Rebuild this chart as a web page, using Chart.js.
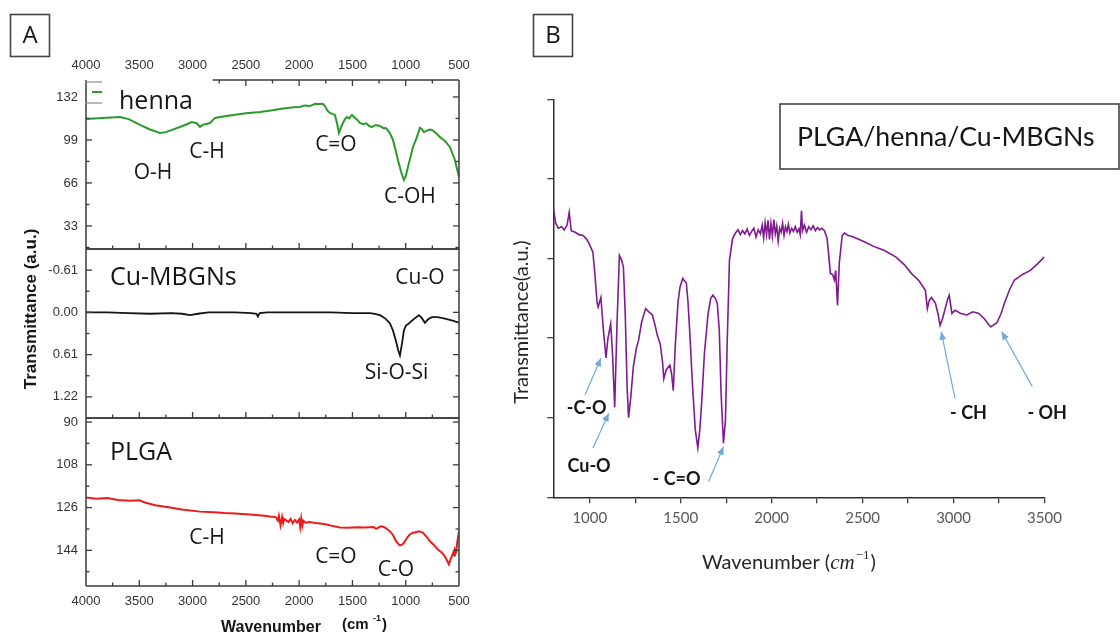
<!DOCTYPE html>
<html>
<head>
<meta charset="utf-8">
<script src="https://cdn.jsdelivr.net/npm/chart.js@4.4.1/dist/chart.umd.min.js"></script>
<style>
    html, body { margin: 0; padding: 0; background: #fff; }
    #wrap { position: relative; width: 1120px; height: 635px; overflow: hidden; background: #fff; }
    #wrap canvas { position: absolute; left: 0; top: 0; }
</style>
</head>
<body>
<div id="wrap">
    <canvas id="cHenna" width="1120" height="635"></canvas>
    <canvas id="cCu" width="1120" height="635"></canvas>
    <canvas id="cPlga" width="1120" height="635"></canvas>
    <canvas id="cComp" width="1120" height="635"></canvas>
</div>
<script>
// ------------------------------
// Data (wavenumber, transmittance)
// ------------------------------
const hennaWn = [4000, 3850, 3681, 3600, 3493, 3400, 3306, 3250, 3193, 3100, 3006, 2960, 2931, 2900, 2874, 2837, 2790, 2700, 2600, 2500,
    2368, 2250, 2150, 2050, 1993, 1950, 1900, 1850, 1805, 1780, 1758, 1735, 1711, 1690, 1664, 1645, 1627, 1610, 1589, 1570,
    1552, 1530, 1505, 1477, 1455, 1430, 1400, 1370, 1340, 1317, 1280, 1242, 1210, 1186, 1150, 1120, 1095, 1073, 1045, 1017,
    1000, 979, 955, 932, 900, 867, 850, 829, 800, 775, 754, 720, 679, 630, 585, 540, 500];
const hennaT = [115.1, 115.8, 116.6, 115.0, 110.5, 107.0, 104.4, 105.0, 106.7, 109.5, 112.8, 111.8, 109.0, 110.8, 111.3, 112.0, 115.9, 117.2, 118.3, 119.5,
    120.5, 121.8, 123.2, 124.0, 124.3, 125.5, 125.0, 126.8, 126.6, 126.8, 125.0, 121.5, 119.7, 119.0, 118.2, 112.0, 104.4, 108.0, 112.0, 115.0,
    116.6, 115.5, 118.2, 115.9, 114.5, 112.0, 111.0, 111.8, 109.5, 109.0, 110.5, 109.7, 108.0, 108.2, 104.5, 99.0, 91.0, 83.6, 75.0, 68.3,
    71.0, 78.3, 86.0, 93.6, 100.0, 108.2, 107.5, 105.1, 106.2, 107.0, 106.7, 104.5, 101.3, 98.0, 93.6, 84.0, 70.6];

const cuWn = [4000, 3800, 3600, 3400, 3200, 3100, 3024, 2950, 2850, 2600, 2450, 2400, 2387, 2370, 2300, 2000, 1700, 1500, 1336, 1290,
    1242, 1190, 1148, 1120, 1092, 1070, 1054, 1035, 1017, 998, 970, 942, 910, 876, 850, 820, 790, 754, 700, 632, 560, 500];
const cuT = [0.0, 0.0, 0.01, 0.02, 0.01, 0.02, 0.04, 0.02, 0.0, 0.0, 0.01, 0.02, 0.06, 0.01, 0.0, 0.0, 0.0, 0.01, 0.01, 0.02,
    0.04, 0.09, 0.16, 0.26, 0.41, 0.55, 0.62, 0.45, 0.26, 0.19, 0.16, 0.12, 0.08, 0.04, 0.08, 0.15, 0.10, 0.07, 0.07, 0.09, 0.12, 0.15];

const plgaWn = [4000, 3900, 3800, 3700, 3587, 3500, 3447, 3350, 3212, 3100, 2931, 2800, 2700, 2600, 2462, 2350, 2274, 2220, 2200, 2190,
    2175, 2160, 2150, 2140, 2120, 2100, 2080, 2060, 2040, 2020, 2000, 1990, 1980, 1970, 1960, 1940, 1900, 1850, 1805, 1750,
    1700, 1617, 1550, 1450, 1383, 1300, 1280, 1270, 1240, 1214, 1180, 1148, 1120, 1101, 1075, 1054, 1030, 1008, 985, 961,
    930, 914, 880, 839, 800, 773, 740, 698, 660, 632, 610, 595, 580, 567, 555, 545, 538, 525, 515, 500];
const plgaT = [121.8, 122.3, 122.0, 122.8, 123.1, 122.9, 123.9, 125.0, 126.0, 126.8, 127.7, 128.0, 128.3, 128.5, 128.9, 129.3, 129.8, 130.0, 131.5, 129.5,
    133.5, 130.0, 132.5, 130.8, 131.5, 132.0, 130.8, 132.6, 131.2, 132.3, 131.0, 134.2, 130.5, 133.6, 131.5, 132.4, 132.1, 132.5, 132.7, 133.0,
    133.6, 134.4, 134.5, 134.3, 134.4, 134.2, 134.9, 134.8, 134.0, 134.0, 134.8, 136.0, 137.5, 139.4, 141.0, 141.9, 141.5, 140.2, 138.5, 137.3,
    136.5, 136.5, 136.0, 136.5, 138.5, 140.2, 141.5, 143.6, 145.0, 146.5, 148.5, 149.9, 147.8, 146.5, 145.0, 146.2, 143.6, 144.5, 140.0, 136.0];

const compWn = [800, 812, 826, 845, 860, 875, 887, 898, 920, 940, 963, 980, 996, 1017, 1028, 1040, 1046, 1061, 1075, 1089,
    1100, 1115, 1125, 1137, 1150, 1163, 1175, 1185, 1195, 1205, 1213, 1225, 1240, 1257, 1268, 1285, 1307, 1325, 1344, 1360,
    1372, 1387, 1400, 1407, 1420, 1440, 1450, 1459, 1470, 1485, 1496, 1511, 1531, 1540, 1550, 1565, 1580, 1594, 1605, 1616,
    1630, 1650, 1665, 1677, 1690, 1701, 1712, 1722, 1735, 1746, 1755, 1768, 1785, 1801, 1815, 1828, 1840, 1852, 1865, 1878,
    1890, 1902, 1914, 1926, 1938, 1948, 1956, 1964, 1972, 1980, 1988, 1996, 2004, 2012, 2020, 2028, 2036, 2044, 2052, 2060,
    2068, 2076, 2084, 2092, 2100, 2110, 2120, 2130, 2140, 2150, 2157, 2164, 2170, 2180, 2192, 2204, 2216, 2228, 2240, 2252,
    2264, 2276, 2290, 2305, 2323, 2335, 2345, 2352, 2362, 2372, 2388, 2400, 2421, 2450, 2500, 2573, 2620, 2682, 2730, 2769,
    2810, 2845, 2856, 2866, 2878, 2900, 2915, 2926, 2940, 2954, 2966, 2976, 2991, 3008, 3040, 3074, 3105, 3139, 3170, 3204,
    3237, 3260, 3280, 3310, 3335, 3380, 3422, 3460, 3500];
const compT = [3.63, 3.45, 3.38, 3.40, 3.36, 3.42, 3.58, 3.35, 3.33, 3.30, 3.29, 3.25, 3.19, 3.08, 2.81, 2.45, 2.39, 2.51, 2.10, 1.75,
    2.00, 2.18, 1.80, 1.13, 2.20, 3.04, 2.98, 2.89, 2.30, 1.40, 1.00, 1.25, 1.65, 1.88, 1.97, 2.20, 2.37, 2.33, 2.29, 2.15,
    2.03, 1.93, 1.70, 1.49, 1.60, 1.66, 1.55, 1.34, 1.90, 2.45, 2.64, 2.75, 2.69, 2.45, 2.06, 1.40, 0.85, 0.62, 0.85, 1.22,
    1.80, 2.30, 2.50, 2.54, 2.50, 2.44, 2.10, 1.30, 0.68, 0.97, 1.90, 2.98, 3.25, 3.32, 3.36, 3.30, 3.35, 3.31, 3.37, 3.29,
    3.34, 3.38, 3.27, 3.36, 3.31, 3.42, 3.26, 3.45, 3.30, 3.48, 3.24, 3.44, 3.28, 3.49, 3.31, 3.41, 3.22, 3.38, 3.33, 3.44,
    3.29, 3.40, 3.34, 3.43, 3.32, 3.38, 3.34, 3.40, 3.33, 3.37, 3.30, 3.60, 3.35, 3.42, 3.33, 3.40, 3.36, 3.41, 3.35, 3.39,
    3.36, 3.38, 3.35, 3.25, 2.81, 2.80, 2.73, 2.85, 2.41, 2.95, 3.29, 3.32, 3.29, 3.27, 3.22, 3.14, 3.10, 3.02, 2.92, 2.81,
    2.72, 2.60, 2.37, 2.47, 2.51, 2.44, 2.30, 2.16, 2.25, 2.37, 2.48, 2.54, 2.31, 2.35, 2.31, 2.29, 2.33, 2.31, 2.24, 2.14,
    2.19, 2.30, 2.44, 2.62, 2.73, 2.80, 2.85, 2.93, 3.02];

// tick values
const aTicksX = [4000, 3500, 3000, 2500, 2000, 1500, 1000, 500];
const aMinorX = [3750, 3250, 2750, 2250, 1750, 1250, 750];
const hennaTicksY = [33, 66, 99, 132];
const hennaMinorY = [16.5, 49.5, 82.5, 115.5];
const cuTicksY = [-0.61, 0, 0.61, 1.22];
const cuMinorY = [-0.305, 0.305, 0.915];
const plgaTicksY = [90, 108, 126, 144];
const plgaMinorY = [99, 117, 135, 153];
const bTicksX = [1000, 1250, 1500, 1750, 2000, 2250, 2500, 2750, 3000, 3250, 3500];
const bTicksY = [0, 1, 2, 3, 4, 5];

// ------------------------------
// Helpers
// ------------------------------
const AX = '#3a3a3a';
const INK = '#161616';
const pts = (xs, ys) => xs.map((x, i) => ({ x: x, y: ys[i] }));
const fixTicks = vals => scale => { scale.ticks = vals.map(v => ({ value: v })); };

function text(ctx, s, x, y, font, color, align) {
    ctx.font = font;
    ctx.fillStyle = color || INK;
    ctx.textAlign = align || 'center';
    ctx.textBaseline = 'middle';
    ctx.fillText(s, x, y);
}

function line(ctx, x1, y1, x2, y2) {
    ctx.beginPath();
    ctx.moveTo(x1, y1);
    ctx.lineTo(x2, y2);
    ctx.stroke();
}

// labels placed in data coordinates of a chart
function label(chart, s, wn, val, font, align) {
    const x = chart.scales.x.getPixelForValue(wn);
    const y = chart.scales.y.getPixelForValue(val);
    text(chart.ctx, s, x, y, font, INK, align);
}

// ------------------------------
// Frame + inward ticks for the stacked panel A plots
// ------------------------------
function aFrame(opt) {
    return {
        id: 'aFrame',
        afterDraw(chart) {
            const { ctx, chartArea: a, scales: { x, y } } = chart;
            ctx.save();
            ctx.strokeStyle = AX;
            ctx.lineWidth = 1.5;
            line(ctx, a.left, a.top, a.left, a.bottom);
            line(ctx, a.right, a.top, a.right, a.bottom);
            line(ctx, a.left, a.bottom, a.right, a.bottom);
            const topFrom = opt.topFrom ? x.getPixelForValue(opt.topFrom) : a.left;
            line(ctx, topFrom, a.top, a.right, a.top);

            ctx.lineWidth = 1.3;
            const xt = aTicksX.slice(1, -1).map(v => [v, 6]).concat(aMinorX.map(v => [v, 3.5]));
            xt.forEach(([v, len]) => {
                const px = x.getPixelForValue(v);
                line(ctx, px, a.bottom, px, a.bottom - len);
                if (opt.topTicks && px >= topFrom) line(ctx, px, a.top, px, a.top + len);
            });
            const yt = opt.major.map(v => [v, 6]).concat(opt.minor.map(v => [v, 3.5]));
            yt.forEach(([v, len]) => {
                const py = y.getPixelForValue(v);
                if (py <= a.top + 1 || py >= a.bottom - 1) return;
                if (!(opt.legend && py < a.top + 24)) line(ctx, a.left, py, a.left + len, py);
                line(ctx, a.right, py, a.right - len, py);
            });

            if (opt.legend) {
                // small legend frame with the green sample line
                ctx.strokeStyle = '#8a8a8a';
                ctx.lineWidth = 1.2;
                line(ctx, a.left - 1, a.top + 2, a.left + 16, a.top + 2);
                line(ctx, a.left - 1, a.top + 23, a.left + 16, a.top + 23);
                ctx.strokeStyle = opt.color;
                ctx.lineWidth = 2;
                line(ctx, a.left + 6, a.top + 12, a.left + 16, a.top + 12);
            }

            opt.labels.forEach(l => label(chart, l[0], l[1], l[2], l[3], l[4]));
            if (opt.extra) opt.extra(ctx);
            ctx.restore();
        }
    };
}

const BIG = '25px "Open Sans"';
const MID = '21px "Open Sans"';
const tickFont = { family: '"Liberation Sans", Arial', size: 13 };
const noGrid = { display: false, tickLength: 0, drawTicks: false };

function aOptions(pad, yMin, yMax, yTicks, yReverse, yFmt, xCfg) {
    return {
        responsive: false,
        animation: false,
        events: [],
        layout: { padding: pad },
        plugins: { legend: { display: false }, tooltip: { enabled: false } },
        scales: {
            x: Object.assign({
                type: 'linear', min: 500, max: 4000, reverse: true,
                afterBuildTicks: fixTicks(aTicksX),
                grid: noGrid, border: { display: false }
            }, xCfg),
            y: {
                min: yMin, max: yMax, reverse: yReverse,
                afterBuildTicks: fixTicks(yTicks),
                afterFit: s => { s.width = 86; },
                grid: noGrid, border: { display: false },
                ticks: { font: tickFont, color: '#333', padding: 8, autoSkip: false, callback: yFmt }
            }
        }
    };
}

const xTickCfg = pad => ({ font: tickFont, color: '#333', padding: pad, maxRotation: 0, autoSkip: false, callback: v => String(v) });

// ------------------------------
// Panel A: henna
// ------------------------------
new Chart(document.getElementById('cHenna'), {
    type: 'line',
    data: { datasets: [{ data: pts(hennaWn, hennaT), borderColor: '#2a9a2a', borderWidth: 2, pointRadius: 0, tension: 0 }] },
    options: aOptions({ left: 0, right: 661, top: 0, bottom: 386 }, 15.3, 145, hennaTicksY, false, v => String(v),
        { position: 'top', afterFit: s => { s.height = 80; }, ticks: xTickCfg(7) }),
    plugins: [aFrame({
        major: hennaTicksY, minor: hennaMinorY, topTicks: true, topFrom: 2810, legend: true, color: '#2a9a2a',
        labels: [['henna', 3690, 128.2, BIG, 'left'], ['O-H', 3372, 73.7, MID], ['C-H', 2865, 89.8, MID],
                 ['C=O', 1655, 95.2, MID], ['C-OH', 961, 55.3, MID]]
    })]
});

// ------------------------------
// Panel A: Cu-MBGNs
// ------------------------------
new Chart(document.getElementById('cCu'), {
    type: 'line',
    data: { datasets: [{ data: pts(cuWn, cuT), borderColor: '#151515', borderWidth: 1.8, pointRadius: 0, tension: 0 }] },
    options: aOptions({ left: 0, right: 661, top: 249, bottom: 217 }, -0.915, 1.525, cuTicksY, true, v => v.toFixed(2),
        { display: false }),
    plugins: [aFrame({
        major: cuTicksY, minor: cuMinorY,
        labels: [['Cu-MBGNs', 3775, -0.494, BIG, 'left'], ['Cu-O', 867, -0.494, MID], ['Si-O-Si', 1086, 0.871, MID]]
    })]
});

// ------------------------------
// Panel A: PLGA (+ shared axis titles)
// ------------------------------
new Chart(document.getElementById('cPlga'), {
    type: 'line',
    data: { datasets: [{ data: pts(plgaWn, plgaT), borderColor: '#ec1c1c', borderWidth: 2, pointRadius: 0, tension: 0 }] },
    options: aOptions({ left: 0, right: 661, top: 418, bottom: 19 }, 88.3, 159, plgaTicksY, true, v => String(v),
        { position: 'bottom', afterFit: s => { s.height = 30; }, ticks: xTickCfg(8) }),
    plugins: [aFrame({
        major: plgaTicksY, minor: plgaMinorY,
        labels: [['PLGA', 3775, 103, BIG, 'left'], ['C-H', 2865, 138.6, MID], ['C=O', 1655, 146.9, MID], ['C-O', 1092, 152.4, MID]],
        extra: ctx => {
            ctx.save();
            ctx.translate(31, 309);
            ctx.rotate(-Math.PI / 2);
            text(ctx, 'Transmittance (a.u.)', 0, 0, 'bold 17px "Liberation Sans", Arial', INK);
            ctx.restore();
            text(ctx, 'Wavenumber', 271, 628, 'bold 16px "Liberation Sans", Arial', INK);
            text(ctx, '(cm', 342, 625, 'bold 15px "Liberation Sans", Arial', INK, 'left');
            text(ctx, '-1', 373, 619, 'bold 9px "Liberation Sans", Arial', INK, 'left');
            text(ctx, ')', 382, 625, 'bold 15px "Liberation Sans", Arial', INK, 'left');
        }
    })]
});

// ------------------------------
// Panel B: PLGA/henna/Cu-MBGNs composite
// ------------------------------
const bLabels = [['-C-O', 983, 1.12], ['Cu-O', 996, 0.385], ['- C=O', 1477, 0.226], ['- CH', 3082, 1.055], ['- OH', 3515, 1.055]];
const bArrows = [[974, 1.285, 1061, 1.746], [1017, 0.616, 1104, 1.055], [1653, 0.196, 1735, 0.636],
                 [3008, 1.244, 2932, 2.08], [3433, 1.39, 3265, 2.08]];

function box(ctx, x, y, w, h) {
    ctx.strokeStyle = '#444';
    ctx.lineWidth = 1.6;
    ctx.strokeRect(x, y, w, h);
}

const overlay = {
    id: 'overlay',
    afterDraw(chart) {
        const { ctx, scales: { x, y } } = chart;
        ctx.save();
        // panel letters
        box(ctx, 10.5, 14.5, 39, 42);
        text(ctx, 'A', 30, 36, '24px "Open Sans"', INK);
        box(ctx, 533.5, 14.5, 39, 42);
        text(ctx, 'B', 553, 36, '24px "Open Sans"', INK);

        // sample name box
        box(ctx, 780, 104, 339, 65);
        text(ctx, 'PLGA/henna/Cu-MBGNs', 797, 137, '26.7px Lato', INK, 'left');

        // axis titles
        ctx.save();
        ctx.translate(522, 322);
        ctx.rotate(-Math.PI / 2);
        text(ctx, 'Transmittance(a.u.)', 0, 0, '20px Lato', '#262626');
        ctx.restore();
        ctx.textBaseline = 'alphabetic';
        ctx.textAlign = 'left';
        ctx.fillStyle = '#262626';
        let cx = 702;
        ctx.font = '20px Lato';
        ctx.fillText('Wavenumber (', cx, 569);
        cx += ctx.measureText('Wavenumber (').width;
        ctx.font = 'italic 21px "Liberation Serif"';
        ctx.fillText('cm', cx, 569);
        cx += ctx.measureText('cm').width + 1;
        ctx.font = '13px "Liberation Serif"';
        ctx.fillText('\u22121', cx, 559);
        cx += ctx.measureText('\u22121').width + 1;
        ctx.font = '20px Lato';
        ctx.fillText(')', cx, 569);

        // arrows
        ctx.strokeStyle = '#6fa8dc';
        ctx.fillStyle = '#6fa8dc';
        ctx.lineWidth = 1.2;
        bArrows.forEach(([w1, v1, w2, v2]) => {
            const x1 = x.getPixelForValue(w1), y1 = y.getPixelForValue(v1);
            const x2 = x.getPixelForValue(w2), y2 = y.getPixelForValue(v2);
            line(ctx, x1, y1, x2, y2);
            const ang = Math.atan2(y2 - y1, x2 - x1);
            ctx.beginPath();
            ctx.moveTo(x2, y2);
            ctx.lineTo(x2 - 8 * Math.cos(ang) + 3.5 * Math.sin(ang), y2 - 8 * Math.sin(ang) - 3.5 * Math.cos(ang));
            ctx.lineTo(x2 - 8 * Math.cos(ang) - 3.5 * Math.sin(ang), y2 - 8 * Math.sin(ang) + 3.5 * Math.cos(ang));
            ctx.closePath();
            ctx.fill();
        });

        bLabels.forEach(l => label(chart, l[0], l[1], l[2], 'bold 18px Lato'));
        ctx.restore();
    }
};

const bGrid = { drawOnChartArea: false, tickLength: 6, color: '#404040', lineWidth: 1.3 };
const bBorder = { color: '#303030', width: 1.5 };

new Chart(document.getElementById('cComp'), {
    type: 'line',
    data: { datasets: [{ data: pts(compWn, compT), borderColor: '#7e1b8e', borderWidth: 1.6, pointRadius: 0, tension: 0 }] },
    options: {
        responsive: false,
        animation: false,
        events: [],
        layout: { padding: { left: 533.4, right: 75.5, top: 99.3, bottom: 97.7 } },
        plugins: { legend: { display: false }, tooltip: { enabled: false } },
        scales: {
            x: {
                type: 'linear', min: 800, max: 3500,
                afterBuildTicks: fixTicks(bTicksX),
                afterFit: s => { s.height = 40; },
                grid: bGrid, border: bBorder,
                ticks: { font: { family: 'Lato', size: 15 }, color: '#595959', padding: 6, maxRotation: 0, autoSkip: false,
                         callback: v => (v % 500 === 0 ? String(v) : '') }
            },
            y: {
                min: 0, max: 5,
                afterBuildTicks: fixTicks(bTicksY),
                afterFit: s => { s.width = 20; },
                grid: bGrid, border: bBorder,
                ticks: { autoSkip: false, callback: () => '' }
            }
        }
    },
    plugins: [overlay]
});
</script>
</body>
</html>
